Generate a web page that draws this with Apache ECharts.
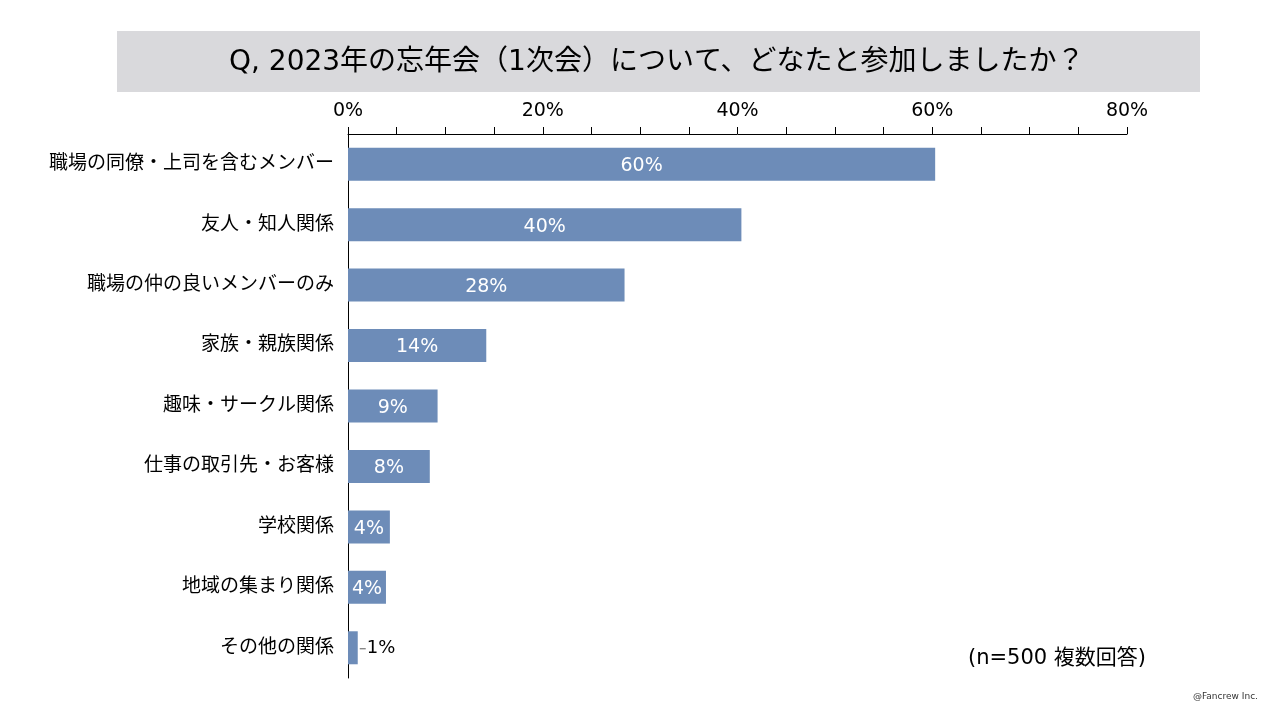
<!DOCTYPE html>
<html>
<head>
<meta charset="utf-8">
<script src="https://cdn.jsdelivr.net/npm/echarts@6/dist/echarts.min.js"></script>
<style>
html,body{margin:0;padding:0;background:#fff;}
#c{width:1280px;height:720px;}
</style>
</head>
<body>
<div id="c"></div>
<script>
const titleText = 'Q, 2023年の忘年会（1次会）について、どなたと参加しましたか？';
const categories = ['職場の同僚・上司を含むメンバー','友人・知人関係','職場の仲の良いメンバーのみ','家族・親族関係','趣味・サークル関係','仕事の取引先・お客様','学校関係','地域の集まり関係','その他の関係'];
const values = [60.3, 40.4, 28.4, 14.2, 9.2, 8.4, 4.3, 3.9, 1.0];
const insideLabel = [true, true, true, true, true, true, true, true, false];
const noteText = '(n=500 複数回答)';
const creditText = '@Fancrew Inc.';

const FONT = '"DejaVu Sans", "Noto Sans CJK JP", sans-serif';
const chart = echarts.init(document.getElementById('c'));

const seriesData = values.map((v, i) => {
  const item = { value: v };
  if (!insideLabel[i]) {
    item.label = {
      position: 'right',
      distance: 2,
      color: '#000',
      offset: [0, 1],
      formatter: function (p) { return '{l|}{v|' + Math.round(p.value) + '%}'; },
      rich: {
        l: { width: 6, height: 1, backgroundColor: '#595959', padding: 0 },
        v: { fontSize: 18, color: '#000', fontFamily: FONT, padding: [0, 0, 0, 1] }
      }
    };
  }
  return item;
});

chart.setOption({
  animation: false,
  backgroundColor: '#ffffff',
  graphic: [
    { type: 'rect', left: 117, top: 31, shape: { width: 1083, height: 61 }, style: { fill: '#d9d9dc' }, z: 0 },
    { type: 'text', left: 229, top: 49, style: { text: titleText, font: '28px ' + FONT, fill: '#000' }, z: 1 },
    { type: 'text', left: 968, top: 648, style: { text: noteText, font: '21px ' + FONT, fill: '#000' } },
    { type: 'text', left: 1193, top: 692, style: { text: creditText, font: '9px ' + FONT, fill: '#333' } }
  ],
  grid: { left: 348, right: 153, top: 134, bottom: 42, containLabel: false },
  xAxis: {
    type: 'value', position: 'top', min: 0, max: 80, interval: 5,
    axisLine: { show: true, lineStyle: { color: '#000', width: 1 } },
    axisTick: { show: true, length: 7, inside: false, lineStyle: { color: '#000' } },
    axisLabel: {
      fontSize: 19, color: '#000', fontFamily: FONT, margin: 13,
      formatter: function (v) { return v % 20 === 0 ? v + '%' : ''; }
    },
    splitLine: { show: false }
  },
  yAxis: {
    type: 'category', inverse: true, data: categories,
    axisLine: { show: true, lineStyle: { color: '#000', width: 1 } },
    axisTick: { show: false },
    axisLabel: { fontSize: 19, color: '#000', fontFamily: FONT, margin: 14, lineHeight: 24, padding: [5, 0, 0, 0] }
  },
  series: [{
    type: 'bar', data: seriesData, barWidth: 33,
    itemStyle: { color: '#6d8cb8' },
    label: {
      show: true, position: 'inside', color: '#fff', fontSize: 19, fontFamily: FONT, offset: [0, 2],
      formatter: function (p) { return Math.round(p.value) + '%'; }
    }
  }]
});
</script>
</body>
</html>
